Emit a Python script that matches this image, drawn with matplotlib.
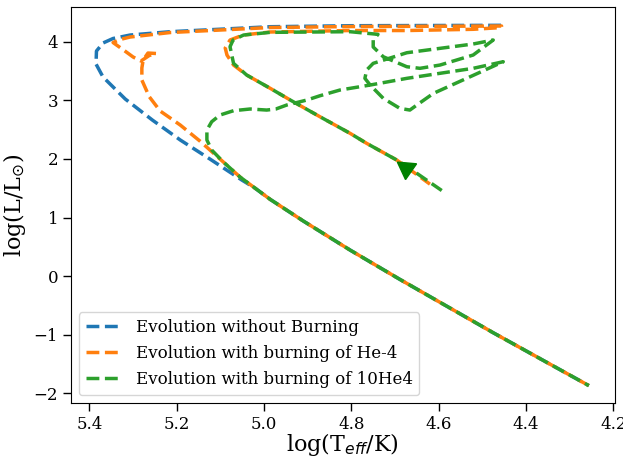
import matplotlib

matplotlib.use("Agg")

import matplotlib.pyplot as plt
from matplotlib.lines import Line2D


# shared main-sequence part (lower right going up)
main_logt = [4.256, 4.475, 4.689, 4.803, 4.910, 4.986, 5.021]
main_logl = [-1.868, -0.966, -0.055, 0.445, 0.940, 1.310, 1.503]

# no burning
blue_logt = [5.051, 5.124, 5.192, 5.256, 5.318, 5.369, 5.385, 5.384, 5.369, 5.346,
             5.307, 5.215, 4.986, 4.803, 4.456]
blue_logl = [1.640, 1.998, 2.323, 2.664, 3.022, 3.398, 3.619, 3.841, 3.978, 4.055,
             4.114, 4.171, 4.256, 4.273, 4.280]

# burning of He-4
orange_logt = [5.055, 5.094, 5.147, 5.192, 5.215, 5.238, 5.263, 5.280, 5.280, 5.277,
               5.266, 5.247, 5.263, 5.282, 5.300, 5.325, 5.346, 5.330, 5.307, 5.215,
               4.986, 4.803, 4.456, 4.456, 4.521, 4.673, 4.803, 4.986, 5.048, 5.078,
               5.089, 5.085, 5.070, 5.040, 4.986, 4.940, 4.872, 4.803, 4.765, 4.696,
               4.620]
orange_logl = [1.691, 1.952, 2.305, 2.578, 2.698, 2.817, 3.061, 3.346, 3.551, 3.688,
               3.807, 3.799, 3.765, 3.671, 3.739, 3.875, 3.986, 4.038, 4.080, 4.157,
               4.242, 4.259, 4.268, 4.242, 4.212, 4.191, 4.191, 4.166, 4.114, 4.029,
               3.892, 3.773, 3.602, 3.432, 3.205, 3.005, 2.720, 2.437, 2.266, 1.981,
               1.570]

# burning of 10He4
green_logt = [5.055, 5.094, 5.120, 5.131, 5.131, 5.120, 5.101, 5.070, 5.032, 4.994,
              4.973, 4.948, 4.902, 4.872, 4.826, 4.757, 4.673, 4.597, 4.521, 4.452,
              4.536, 4.612, 4.650, 4.666, 4.689, 4.727, 4.757, 4.769, 4.765, 4.750,
              4.673, 4.597, 4.521, 4.475, 4.521, 4.597, 4.643, 4.673, 4.727, 4.750,
              4.750, 4.739, 4.803, 4.986, 5.047, 5.071, 5.078, 5.070, 5.040, 4.986,
              4.940, 4.872, 4.803, 4.765, 4.696, 4.650, 4.593]
green_logl = [1.691, 1.952, 2.152, 2.323, 2.493, 2.635, 2.749, 2.823, 2.852, 2.834,
              2.852, 2.920, 3.005, 3.078, 3.176, 3.261, 3.375, 3.461, 3.546, 3.659,
              3.375, 3.119, 2.920, 2.834, 2.863, 3.034, 3.261, 3.375, 3.517, 3.631,
              3.812, 3.887, 3.961, 4.029, 3.773, 3.602, 3.546, 3.573, 3.744, 3.910,
              4.029, 4.126, 4.171, 4.160, 4.114, 4.029, 3.915, 3.631, 3.432, 3.205,
              3.005, 2.720, 2.437, 2.266, 1.981, 1.754, 1.461]

marker_logt = 4.675
marker_logl = 1.852

labels = ["Evolution without Burning", "Evolution with burning of He-4",
          "Evolution with burning of 10He4"]
colors = ["#1f77b4", "#ff7f0e", "#2ca02c"]

plt.rcParams["font.family"] = "DejaVu Serif"

fig = plt.figure(figsize=(6.23, 4.58), dpi=100)
ax = fig.add_axes([0.1135, 0.1194, 0.873, 0.865])

lw = 2.5
# dash phases differ so the overlapping tracks show through each other
ax.plot(main_logt + blue_logt, main_logl + blue_logl, color=colors[0],
        ls=(3, (3.7, 1.6)), lw=lw)
ax.plot(main_logt + orange_logt, main_logl + orange_logl, color=colors[1],
        ls=(0, (3.7, 1.6)), lw=lw)
ax.plot(main_logt + green_logt, main_logl + green_logl, color=colors[2],
        ls=(2.4, (3.7, 1.6)), lw=lw)
ax.plot(marker_logt, marker_logl, marker=(3, 0, 175), ms=16, color="green", ls="none")

ax.set_xlim(5.443, 4.197)
ax.set_ylim(-2.17, 4.59)
ax.set_xlabel(r"log(T$_{eff}$/K)", fontsize=16, labelpad=-1)
ax.set_ylabel(r"log(L/L$_{\odot}$)", fontsize=16)
ax.tick_params(labelsize=12, length=5.5, width=1)

handles = [Line2D([], [], color=c, ls="--", lw=lw) for c in colors]
ax.legend(handles, labels, loc="lower left", fontsize=12,
          handletextpad=1.0, labelspacing=0.55)

fig.savefig("out.png", dpi=100)
